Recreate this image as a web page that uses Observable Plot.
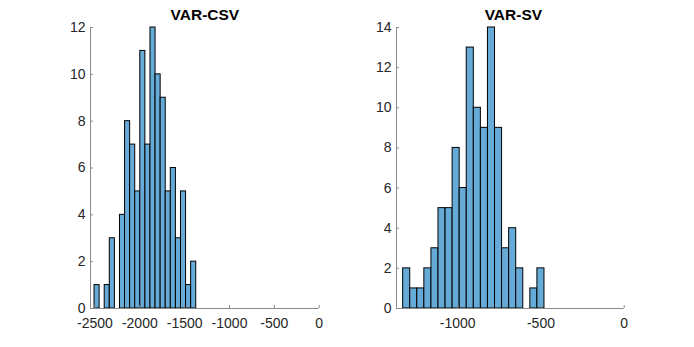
<!DOCTYPE html>
<html>
<head>
<meta charset="utf-8">
<script src="https://cdn.jsdelivr.net/npm/d3@7"></script>
<script src="https://cdn.jsdelivr.net/npm/@observablehq/plot@0.6"></script>
<style>
  html, body { margin: 0; padding: 0; background: #fff; }
  #wrap { display: flex; width: 694px; height: 347px; }
  #wrap svg { font-family: 'Liberation Sans', Arial, sans-serif !important; font-size: 14px !important; }
</style>
</head>
<body>
<div id="wrap"></div>
<script>
// ---- data ----
const leftTitle = "VAR-CSV";
const leftCounts = [1, 0, 1, 3, 0, 4, 8, 7, 5, 11, 7, 12, 10, 9, 5, 6, 3, 5, 1, 2];
const leftBinStart = -2505;
const leftBinWidth = 56.7;
const leftXDomain = [-2550, 0];
const leftXTicks = [-2500, -2000, -1500, -1000, -500, 0];
const leftYDomain = [0, 12];
const leftYTicks = [0, 2, 4, 6, 8, 10, 12];

const rightTitle = "VAR-SV";
const rightCounts = [2, 1, 1, 2, 3, 5, 5, 8, 6, 13, 10, 9, 14, 9, 3, 4, 2, 0, 1, 2];
const rightBinStart = -1328;
const rightBinWidth = 42.45;
const rightXDomain = [-1368, 0];
const rightXTicks = [-1000, -500, 0];
const rightYDomain = [0, 14];
const rightYTicks = [0, 2, 4, 6, 8, 10, 12, 14];

const barFill = "#66aad7";
const textColor = "#262626";
const axisColor = "#8c8c8c";

function makeHist({title, counts, start, width, xDomain, xTicks, yDomain, yTicks, marginLeft, marginRight, titleDx}) {
  const bins = counts.map((c, i) => ({x1: start + i * width, x2: start + (i + 1) * width, count: c}))
                     .filter(d => d.count > 0);
  const W = 347, H = 347, mt = 27, mb = 39;
  const frameH = H - mt - mb;
  const frameW = W - marginLeft - marginRight;
  return Plot.plot({
    width: W,
    height: H,
    marginLeft, marginRight, marginTop: mt, marginBottom: mb,
    style: "font-family: 'Liberation Sans', Arial, sans-serif; font-size: 14px; color: #262626; background: white; overflow: visible;",
    x: {domain: xDomain},
    y: {domain: yDomain},
    marks: [
      Plot.rect(bins, {x1: "x1", x2: "x2", y1: 0, y2: "count", fill: barFill, stroke: "black", strokeWidth: 1}),
      Plot.ruleY([yDomain[0]], {stroke: axisColor, strokeWidth: 1}),
      Plot.ruleX([xDomain[0]], {stroke: axisColor, strokeWidth: 1}),
      Plot.tickX(xTicks, {x: d => d, stroke: axisColor, insetTop: frameH - 3}),
      Plot.tickY(yTicks, {y: d => d, stroke: axisColor, insetRight: frameW - 3}),
      Plot.axisX({ticks: xTicks, tickSize: 0, tickPadding: 10, tickFormat: d => String(d), label: null, fill: textColor}),
      Plot.axisY({ticks: yTicks, tickSize: 0, tickPadding: 5, tickFormat: d => String(d), label: null, fill: textColor}),
      Plot.text([title], {frameAnchor: "top", dy: -19, dx: titleDx, fontWeight: "bold", fontSize: 15.5, fill: "black"})
    ]
  });
}

const wrap = document.getElementById("wrap");
wrap.append(makeHist({
  title: leftTitle, counts: leftCounts, start: leftBinStart, width: leftBinWidth,
  xDomain: leftXDomain, xTicks: leftXTicks, yDomain: leftYDomain, yTicks: leftYTicks,
  marginLeft: 90, marginRight: 28.3, titleDx: 0
}));
wrap.append(makeHist({
  title: rightTitle, counts: rightCounts, start: rightBinStart, width: rightBinWidth,
  xDomain: rightXDomain, xTicks: rightXTicks, yDomain: rightYDomain, yTicks: rightYTicks,
  marginLeft: 49, marginRight: 70.3, titleDx: 3
}));
</script>
</body>
</html>
